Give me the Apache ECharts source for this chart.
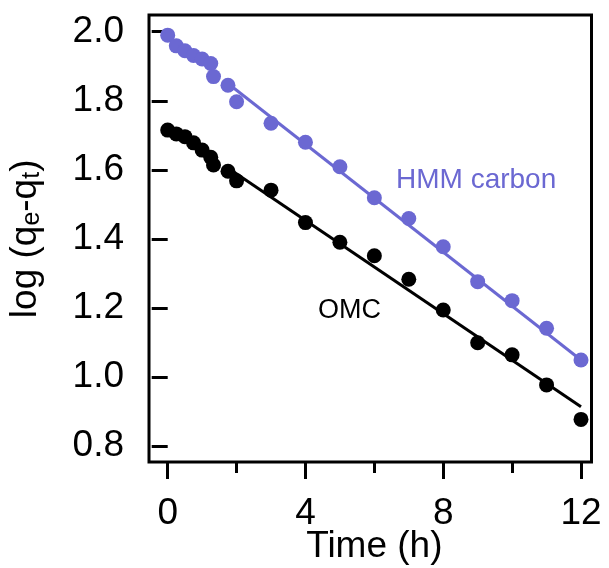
<!DOCTYPE html>
<html>
<head>
<meta charset="utf-8">
<script src="https://cdn.jsdelivr.net/npm/echarts@6/dist/echarts.min.js"></script>
<style>
  html, body { margin: 0; padding: 0; background: #fff; }
  #main { width: 609px; height: 568px; }
</style>
</head>
<body>
<div id="main"></div>
<script>
// data
var timeH = [0, 0.25, 0.5, 0.75, 1, 1.25, 1.33, 1.75, 2, 3, 4, 5, 6, 7, 8, 9, 10, 11, 12];
var hmmLog = [1.990, 1.959, 1.945, 1.931, 1.921, 1.908, 1.870, 1.845, 1.797, 1.735, 1.680, 1.609, 1.519, 1.459, 1.377, 1.276, 1.221, 1.141, 1.049];
var omcLog = [1.715, 1.704, 1.696, 1.678, 1.657, 1.636, 1.614, 1.596, 1.568, 1.541, 1.447, 1.390, 1.351, 1.283, 1.194, 1.099, 1.064, 0.977, 0.877];
// fitted lines (start / end)
var fitTime = [1.75, 12];
var hmmFit = [1.85, 1.049];
var omcFit = [1.605, 0.914];
var xTicks = [0, 4, 8, 12];
var yTicks = [0.8, 1.0, 1.2, 1.4, 1.6, 1.8, 2.0];

var purple = '#6b68d2';
var font = 'Liberation Sans, Arial, sans-serif';

function pairs(xs, ys) {
    var out = [];
    xs.forEach(function (x, i) { out.push([x, ys[i]]); });
    return out;
}

var chart = echarts.init(document.getElementById('main'));

var option = {
    animation: false,
    backgroundColor: '#fff',
    grid: [
        // frame box
        { left: 149, top: 15, width: 442.5, height: 447, outerBoundsMode: 'none', show: true, borderColor: '#000', borderWidth: 3, backgroundColor: 'transparent' },
        // data area
        { left: 167.7, top: 31.7, width: 413.3, height: 414.3, outerBoundsMode: 'none' }
    ],
    xAxis: [
        { gridIndex: 0, show: false, min: 0, max: 1 },
        {
            gridIndex: 1, type: 'value', min: xTicks[0], max: xTicks[xTicks.length - 1], interval: 4,
            offset: 16,
            name: 'Time (h)', nameLocation: 'middle', nameGap: 66, nameMoveOverlap: false,
            nameTextStyle: { fontFamily: font, fontSize: 37, color: '#000' },
            axisLine: { show: false },
            axisTick: { show: true, length: 17, lineStyle: { color: '#000', width: 3 } },
            minorTick: { show: true, splitNumber: 2, length: 11, lineStyle: { color: '#000', width: 3 } },
            axisLabel: { margin: 33, fontFamily: font, fontSize: 37, color: '#000' },
            splitLine: { show: false }
        }
    ],
    yAxis: [
        { gridIndex: 0, show: false, min: 0, max: 1 },
        {
            gridIndex: 1, type: 'value', min: yTicks[0], max: yTicks[yTicks.length - 1], interval: 0.2,
            offset: 18.7,
            name: 'log (q{sub|e}-q{sub|t})', nameLocation: 'middle', nameRotate: 90, nameGap: 104, nameMoveOverlap: false,
            nameTextStyle: {
                fontFamily: font, fontSize: 37, color: '#000',
                rich: { sub: { fontFamily: font, fontSize: 25, color: '#000', padding: [14, 0, 0, 0] } }
            },
            axisLine: { show: false },
            axisTick: { show: true, length: 16, lineStyle: { color: '#000', width: 3 } },
            axisLabel: {
                margin: 25, fontFamily: font, fontSize: 37, color: '#000',
                formatter: function (v) { return v.toFixed(1); }
            },
            splitLine: { show: false }
        }
    ],
    graphic: [
        { type: 'text', left: 396, top: 166, style: { text: 'HMM carbon', fill: purple, font: '28px ' + font } },
        { type: 'text', left: 318, top: 297, style: { text: 'OMC', fill: '#000', font: '27px ' + font } }
    ],
    series: [
        {
            type: 'line', xAxisIndex: 1, yAxisIndex: 1, data: pairs(fitTime, hmmFit),
            symbol: 'none', lineStyle: { color: purple, width: 3 }, z: 2
        },
        {
            type: 'line', xAxisIndex: 1, yAxisIndex: 1, data: pairs(fitTime, omcFit),
            symbol: 'none', lineStyle: { color: '#000', width: 3 }, z: 2
        },
        {
            type: 'scatter', xAxisIndex: 1, yAxisIndex: 1, data: pairs(timeH, hmmLog),
            symbolSize: 15, itemStyle: { color: purple, opacity: 1 }, z: 3
        },
        {
            type: 'scatter', xAxisIndex: 1, yAxisIndex: 1, data: pairs(timeH, omcLog),
            symbolSize: 15, itemStyle: { color: '#000', opacity: 1 }, z: 3
        }
    ]
};

chart.setOption(option);
</script>
</body>
</html>
